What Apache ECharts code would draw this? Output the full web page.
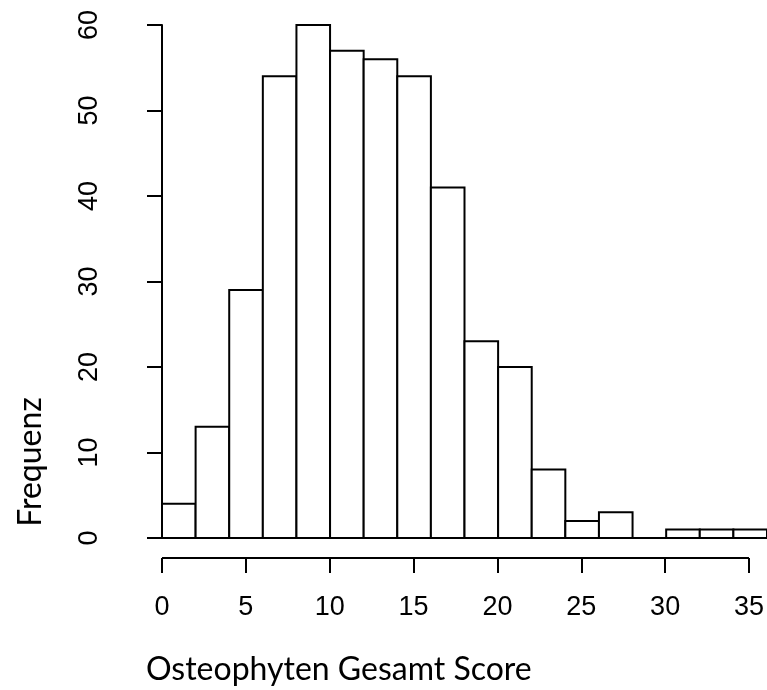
<!DOCTYPE html>
<html>
<head>
<meta charset="utf-8">
<script src="https://cdn.jsdelivr.net/npm/echarts@6/dist/echarts.min.js"></script>
<style>html,body{margin:0;padding:0;background:#fff}#c{width:767px;height:690px}</style>
</head>
<body>
<div id="c"></div>
<script>
const binStarts = [0,2,4,6,8,10,12,14,16,18,20,22,24,26,28,30,32,34];
const binWidth = 2;
const counts = [4,13,29,54,60,57,56,54,41,23,20,8,2,3,0,1,1,1];
const xTicks = [0,5,10,15,20,25,30,35];
const yTicks = [0,10,20,30,40,50,60];
const xTitle = 'Osteophyten Gesamt Score';
const yTitle = 'Frequenz';

const histData = binStarts.map((s,i)=>[s, s+binWidth, counts[i]]);

const chart = echarts.init(document.getElementById('c'), null, {renderer:'canvas'});
chart.setOption({
  animation:false,
  backgroundColor:'#fff',
  grid:[
    {left:162, right:0, top:25, bottom:152},
    {left:162, right:0, top:557, height:1}
  ],
  xAxis:[
    {gridIndex:0, type:'value', min:0, max:36, show:false},
    {gridIndex:1, type:'value', min:0, max:36, interval:5,
     axisLine:{show:false}, splitLine:{show:false},
     axisTick:{show:true, length:15, lineStyle:{color:'#000', width:2}, customValues:xTicks},
     axisLabel:{margin:36, fontFamily:'Liberation Sans', fontSize:27, color:'#000', customValues:xTicks}
    }
  ],
  yAxis:[
    {gridIndex:0, type:'value', min:0, max:60, interval:10, offset:25,
     axisLine:{show:true, lineStyle:{color:'#000', width:2}},
     axisTick:{show:true, length:15, lineStyle:{color:'#000', width:2}, customValues:yTicks},
     axisLabel:{rotate:90, margin:34, fontFamily:'Liberation Sans', fontSize:27, color:'#000', customValues:yTicks},
     splitLine:{show:false}
    },
    {gridIndex:1, type:'value', min:0, max:1, show:false}
  ],
  series:[
    {
      type:'custom', xAxisIndex:0, yAxisIndex:0, clip:false,
      data:histData,
      renderItem:function(params, api){
        const p0 = api.coord([api.value(0), api.value(2)]);
        const p1 = api.coord([api.value(1), 0]);
        return {type:'rect', shape:{x:p0[0], y:p0[1], width:p1[0]-p0[0], height:p1[1]-p0[1]},
                style:{fill:'#fff', stroke:'#000', lineWidth:2}};
      }
    },
    {
      type:'line', xAxisIndex:1, yAxisIndex:1, symbol:'none',
      data:[[xTicks[0],0],[xTicks[xTicks.length-1],0]],
      lineStyle:{color:'#000', width:2}
    }
  ],
  graphic:[
    {type:'text', left:146, top:654, style:{text:xTitle, font:'32px Lato', fill:'#000'}},
    {type:'text', x:31, y:462, rotation:Math.PI/2, style:{text:yTitle, font:'32px Lato', fill:'#000', align:'center', verticalAlign:'middle'}}
  ]
});
</script>
</body>
</html>
